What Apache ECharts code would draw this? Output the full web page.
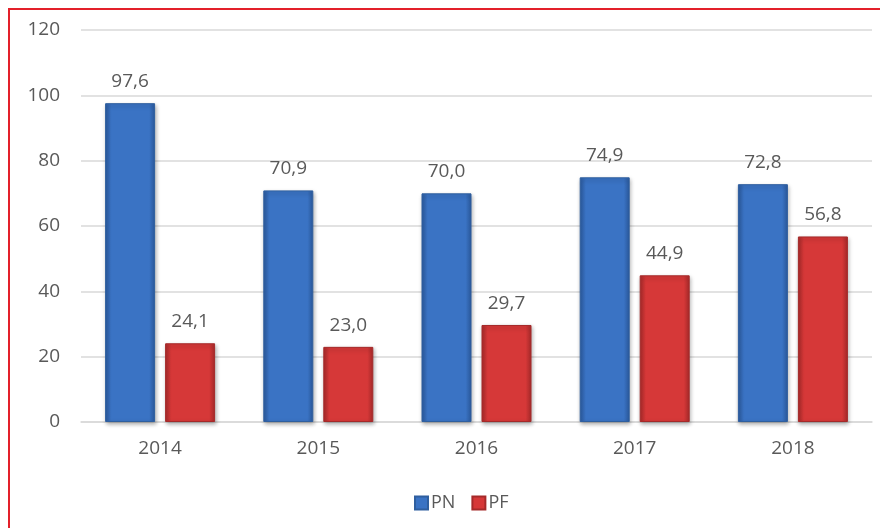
<!DOCTYPE html>
<html>
<head>
<meta charset="utf-8">
<script src="https://cdn.jsdelivr.net/npm/echarts@6/dist/echarts.min.js"></script>
<style>
  html, body { margin: 0; padding: 0; background: #fff; }
  #main { width: 880px; height: 528px; }
</style>
</head>
<body>
<div id="main"></div>
<script>
// 数据
const years = ['2014', '2015', '2016', '2017', '2018']
const pnValues = [97.6, 70.9, 70.0, 74.9, 72.8]
const pfValues = [24.1, 23.0, 29.7, 44.9, 56.8]
const seriesNames = ['PN', 'PF']

const textColor = '#595959'
const fontFamily = '"Open Sans", "Liberation Sans", sans-serif'

// 柱子渐变色（左右暗，中间亮）
function barGradient(edge, mid) {
  return new echarts.graphic.LinearGradient(0, 0, 1, 0, [
    { offset: 0, color: edge },
    { offset: 0.12, color: mid },
    { offset: 0.5, color: mid },
    { offset: 0.88, color: mid },
    { offset: 1, color: edge },
  ])
}

function fmt(p) {
  return p.value.toFixed(1).replace('.', ',')
}

const labelOption = {
  show: true,
  position: 'top',
  distance: 12,
  color: textColor,
  fontSize: 19,
  fontFamily,
  formatter: fmt,
}

const chart = echarts.init(document.getElementById('main'))
const option = {
  animation: false,
  grid: { left: 81, right: 8, top: 30, bottom: 106 },
  legend: {
    data: seriesNames,
    left: 409,
    top: 489,
    itemWidth: 13,
    itemHeight: 13,
    itemGap: 16,
    icon: 'rect',
    textStyle: { color: textColor, fontSize: 18, fontFamily, padding: [0, 0, 0, -2] },
  },
  xAxis: {
    type: 'category',
    data: years,
    axisLine: { lineStyle: { color: '#d9d9d9', width: 1.5 } },
    axisTick: { show: false },
    axisLabel: { color: textColor, fontSize: 19, fontFamily, margin: 17 },
  },
  yAxis: {
    type: 'value',
    min: 0,
    max: 120,
    interval: 20,
    axisLine: { show: false },
    axisTick: { show: false },
    axisLabel: { color: textColor, fontSize: 19, fontFamily, margin: 21 },
    splitLine: { lineStyle: { color: '#d9d9d9', width: 1.5 } },
  },
  series: [
    {
      name: 'PN',
      type: 'bar',
      data: pnValues,
      barWidth: 50,
      barGap: '20%',
      label: labelOption,
      itemStyle: {
        color: barGradient('#2b5a9e', '#3a73c4'),
        borderColor: '#2f5f9f',
        borderWidth: 1,
        shadowColor: 'rgba(0,0,0,0.3)',
        shadowBlur: 4,
        shadowOffsetX: 1,
        shadowOffsetY: 2,
      },
    },
    {
      name: 'PF',
      type: 'bar',
      data: pfValues,
      barWidth: 50,
      label: labelOption,
      itemStyle: {
        color: barGradient('#a82a2a', '#d63838'),
        borderColor: '#a52a2a',
        borderWidth: 1,
        shadowColor: 'rgba(0,0,0,0.3)',
        shadowBlur: 4,
        shadowOffsetX: 1,
        shadowOffsetY: 2,
      },
    },
  ],
  graphic: [
    {
      type: 'rect',
      shape: { x: 9, y: 9, width: 900, height: 560 },
      style: { fill: 'none', stroke: '#e3202a', lineWidth: 2 },
      silent: true,
    },
  ],
}
chart.setOption(option)
</script>
</body>
</html>
